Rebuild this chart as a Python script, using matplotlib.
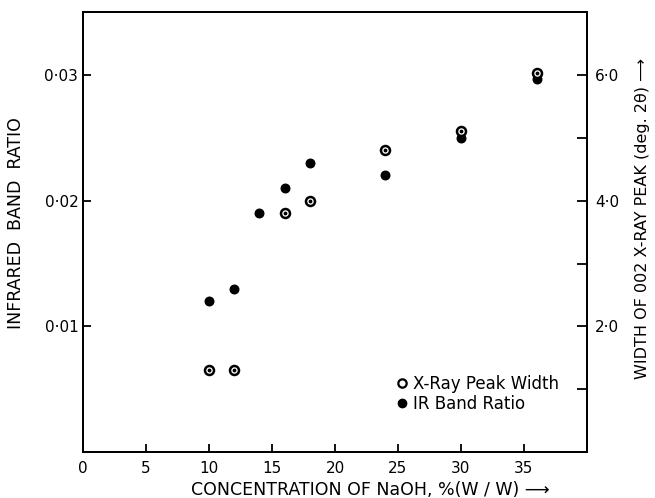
import matplotlib
matplotlib.use("Agg")
import matplotlib.pyplot as plt
from matplotlib.lines import Line2D

# IR band ratio (left axis)
ir_conc = [10, 12, 14, 16, 18, 24, 30, 36]
ir_ratio = [0.012, 0.013, 0.019, 0.021, 0.023, 0.022, 0.025, 0.0297]

# X-ray peak width, deg 2-theta (right axis)
xr_conc = [10, 12, 16, 18, 24, 30, 36]
xr_width = [1.3, 1.3, 3.8, 4.0, 4.8, 5.1, 6.03]

x_ticks = [0, 5, 10, 15, 20, 25, 30, 35]
left_ticks = [0.01, 0.02, 0.03]
left_labels = ["0·01", "0·02", "0·03"]
right_major = [2.0, 4.0, 6.0]
right_labels = ["2·0", "4·0", "6·0"]
right_minor = [1.0, 3.0, 5.0]

plt.rcParams['font.family'] = ['DejaVu Sans']

fig = plt.figure(figsize=(6.55, 4.98), dpi=100)
ax = fig.add_axes([0.127, 0.092, 0.769, 0.884])
ax2 = ax.twinx()

ax.set_xlim(0, 40)
ax.set_ylim(0, 0.035)
ax2.set_ylim(0, 7.0)

ax.scatter(ir_conc, ir_ratio, s=38, color='black', zorder=3)
ax2.scatter(xr_conc, xr_width, s=42, facecolors='white', edgecolors='black',
            linewidths=1.8, zorder=4)
ax2.scatter(xr_conc, xr_width, s=3, color='black', zorder=5)

ax.set_xticks(x_ticks)
ax.set_yticks(left_ticks)
ax.set_yticklabels(left_labels)
ax2.set_yticks(right_major)
ax2.set_yticklabels(right_labels)
ax2.set_yticks(right_minor, minor=True)

ax.tick_params(axis='both', direction='in', length=6, width=1.3, labelsize=11)
ax.tick_params(axis='x', pad=6)
ax2.tick_params(axis='y', which='major', direction='in', length=7, width=1.3,
                labelsize=11, pad=6)
ax2.tick_params(axis='y', which='minor', direction='in', length=7, width=1.3)

for a in (ax, ax2):
    for sp in a.spines.values():
        sp.set_linewidth(1.4)

ax.set_xlabel("CONCENTRATION OF NaOH, %(W / W) ⟶", fontsize=12.5)
ax.xaxis.set_label_coords(0.57, -0.065)
ax.set_ylabel("INFRARED  BAND  RATIO", fontsize=12.5)
ax.yaxis.set_label_coords(-0.115, 0.52)
ax2.set_ylabel("WIDTH OF 002 X-RAY PEAK (deg. 2θ) ⟶", fontsize=11.5)
ax2.yaxis.set_label_coords(1.095, 0.53)

handles = [
    Line2D([], [], linestyle='none', marker='o', markersize=6,
           markerfacecolor='white', markeredgecolor='black', markeredgewidth=1.6),
    Line2D([], [], linestyle='none', marker='o', markersize=6, color='black'),
]
ax.legend(handles, ["X-Ray Peak Width", "IR Band Ratio"], loc='lower right',
          bbox_to_anchor=(0.975, 0.055), frameon=False, fontsize=12,
          handletextpad=0.2, labelspacing=0.1, handlelength=1.0)

fig.savefig("out.png", dpi=100)
